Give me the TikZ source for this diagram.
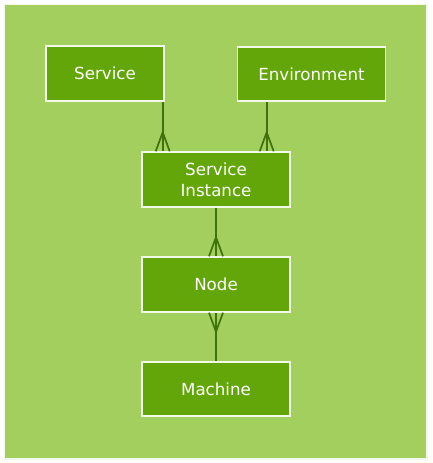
\documentclass[tikz,border=0pt]{standalone}
\usepackage{fontspec}
\setmainfont{DejaVu Sans}
\usetikzlibrary{calc}
\definecolor{bggreen}{HTML}{A3CF5E}
\definecolor{boxgreen}{HTML}{62A60A}
\definecolor{linegreen}{HTML}{42720D}
\definecolor{edgewhite}{HTML}{F2F8EA}
\begin{document}
\begin{tikzpicture}[x=0.75pt,y=-0.75pt,
  entity/.style={draw=edgewhite,line width=1.3pt,fill=boxgreen,text=white,
    minimum height=41pt,inner sep=0pt,align=center,
    font=\fontsize{12.5}{15.8}\selectfont},
  link/.style={draw=linegreen,line width=1.3pt}]
\useasboundingbox (0,0) rectangle (432,463);
\draw[draw=edgewhite,line width=1pt,fill=bggreen] (4.5,4.5) rectangle (427,459);
\node[entity,minimum width=88.5pt] (svc) at (105,73.5) {Service};
\node[entity,minimum width=111pt] (env) at (311.5,74) {Environment};
\node[entity,minimum width=111.5pt] (si) at (216,179.5) {Service\\Instance};
\node[entity,minimum width=111.5pt] (nd) at (216,284.5) {Node};
\node[entity,minimum width=111.5pt] (mc) at (216,389) {Machine};
\coordinate (x1) at (162.7,0);
\coordinate (x2) at (266.7,0);
\coordinate (x3) at (216,0);
% Service -> Service Instance (many at SI)
\draw[link] (svc.south -| x1) -- ($(si.north -| x1)+(0,-19)$) coordinate (p1) -- (si.north -| x1);
\draw[link] (p1) -- ($(si.north -| x1)+(-7,0)$);
\draw[link] (p1) -- ($(si.north -| x1)+(7,0)$);
% Environment -> Service Instance
\draw[link] (env.south -| x2) -- ($(si.north -| x2)+(0,-19)$) coordinate (p2) -- (si.north -| x2);
\draw[link] (p2) -- ($(si.north -| x2)+(-7,0)$);
\draw[link] (p2) -- ($(si.north -| x2)+(7,0)$);
% Service Instance -> Node (many at Node)
\draw[link] (si.south -| x3) -- ($(nd.north -| x3)+(0,-19)$) coordinate (p3) -- (nd.north -| x3);
\draw[link] (p3) -- ($(nd.north -| x3)+(-7,0)$);
\draw[link] (p3) -- ($(nd.north -| x3)+(7,0)$);
% Machine -> Node (many at Node)
\draw[link] (mc.north -| x3) -- ($(nd.south -| x3)+(0,19)$) coordinate (p4) -- (nd.south -| x3);
\draw[link] (p4) -- ($(nd.south -| x3)+(-7,0)$);
\draw[link] (p4) -- ($(nd.south -| x3)+(7,0)$);
\end{tikzpicture}
\end{document}
